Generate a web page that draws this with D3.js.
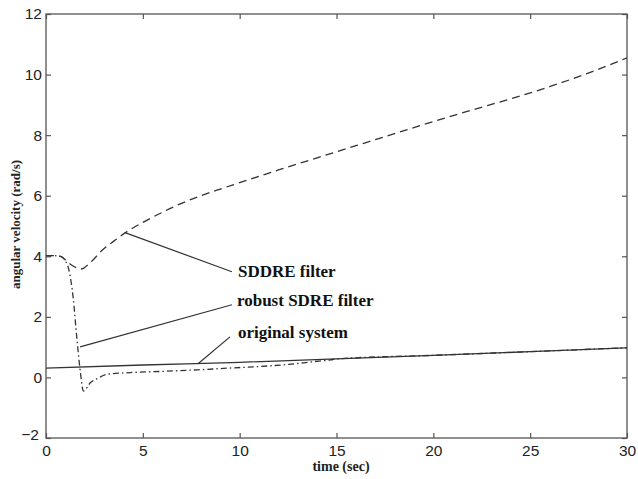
<!DOCTYPE html>
<html><head><meta charset="utf-8">
<script src="https://cdn.jsdelivr.net/npm/d3@7"></script>
<style>body{margin:0;background:#fff}</style>
</head><body>
<svg id="c" width="638" height="479"></svg>
<script>
const xTicks = [0,5,10,15,20,25,30];
const yTicks = [-2,0,2,4,6,8,10,12];
const xLabel = "time (sec)";
const yLabel = "angular velocity (rad/s)";

const tSddre = [0,0.4,0.75,1.1,1.4,1.8,2.3,2.9,3.5,4.1,5,6,7,8,9,10,12,14,16,18,20,22,24,26,28,30];
const sddre  = [4.02,4.02,4.0,3.82,3.68,3.58,3.8,4.2,4.5,4.78,5.12,5.45,5.75,6.0,6.22,6.43,6.85,7.25,7.65,8.05,8.45,8.83,9.2,9.6,10.05,10.55];

const tRobust = [0,0.4,0.75,1.0,1.2,1.4,1.6,1.78,1.93,2.3,2.7,3.15,4.35,6,7.8,9.5,11,12.5,13.8,14.7,15,20,25,30];
const robust  = [4.02,4.02,4.0,3.85,3.5,2.65,1.25,0.15,-0.45,-0.17,-0.02,0.1,0.16,0.2,0.25,0.31,0.36,0.43,0.52,0.58,0.61,0.73,0.85,0.98];

const tOrig = [0,5,10,15,20,25,30];
const orig  = [0.31,0.41,0.5,0.61,0.73,0.85,0.98];

const labels = ["SDDRE filter","robust SDRE filter","original system"];
const leaderFrom = [[4.08,4.78],[1.76,1.01],[7.85,0.45]];
const leaderTo   = [[9.6,3.49],[9.6,2.4],[9.5,1.34]];
const labelPos   = [[9.91,3.32],[9.86,2.37],[9.91,1.31]];

const svg = d3.select("#c");
const L=46,R=627,T=14,B=438;
const x = d3.scaleLinear().domain([0,30]).range([L,R]);
const y = d3.scaleLinear().domain([-2,12]).range([B,T]);
const ink="#333";
const serif="Liberation Serif, Times New Roman, serif";

// frame
svg.append("rect").attr("x",L).attr("y",T).attr("width",R-L).attr("height",B-T)
  .attr("fill","none").attr("stroke","#555").attr("stroke-width",1.3);

// axes with inward ticks
const ax = svg.append("g").attr("transform",`translate(0,${B})`)
  .call(d3.axisBottom(x).tickValues(xTicks).tickSizeInner(-5).tickSizeOuter(0).tickPadding(7));
const ay = svg.append("g").attr("transform",`translate(${L},0)`)
  .call(d3.axisLeft(y).tickValues(yTicks).tickSizeInner(-5).tickSizeOuter(0).tickPadding(4).tickFormat(d=>d<0?"\u2212"+(-d):d));
const at = svg.append("g").attr("transform",`translate(0,${T})`)
  .call(d3.axisTop(x).tickValues(xTicks).tickSizeInner(-5).tickSizeOuter(0).tickFormat(""));
const ar = svg.append("g").attr("transform",`translate(${R},0)`)
  .call(d3.axisRight(y).tickValues(yTicks).tickSizeInner(-5).tickSizeOuter(0).tickFormat(""));
[ax,ay,at,ar].forEach(g=>{
  g.select(".domain").remove();
  g.selectAll(".tick line").attr("stroke","#555").attr("stroke-width",1.2);
  g.selectAll("text").attr("font-family","Liberation Sans, Arial, sans-serif").attr("font-size",15.5).attr("fill","#222");
});
ay.selectAll(".tick text").filter(d=>d===-2).attr("dy","0.1em").attr("dx","-3");

// axis titles
svg.append("text").attr("x",341).attr("y",471).attr("text-anchor","middle")
  .attr("font-family",serif).attr("font-weight","bold").attr("font-size",14).attr("fill","#222").text(xLabel);
svg.append("text").attr("transform",`translate(15,${y(5.05)}) rotate(-90)`).attr("text-anchor","middle").attr("dy","0.35em")
  .attr("font-family",serif).attr("font-weight","bold").attr("font-size",13).attr("fill","#222").text(yLabel);

const line = d3.line().x(d=>x(d[0])).y(d=>y(d[1])).curve(d3.curveMonotoneX);
const draw=(ts,vs,dash)=>svg.append("path").datum(ts.map((t,i)=>[t,vs[i]]))
  .attr("d",line).attr("fill","none").attr("stroke",ink).attr("stroke-width",1.3)
  .attr("stroke-dasharray",dash);
draw(tOrig,orig,null);
draw(tRobust,robust,"6,3,1.5,3");
draw(tSddre,sddre,"8,5");

// annotations
labels.forEach((s,i)=>{
  svg.append("line").attr("x1",x(leaderFrom[i][0])).attr("y1",y(leaderFrom[i][1]))
    .attr("x2",x(leaderTo[i][0])).attr("y2",y(leaderTo[i][1])).attr("stroke",ink).attr("stroke-width",1.2);
  svg.append("text").attr("x",x(labelPos[i][0])).attr("y",y(labelPos[i][1]))
    .attr("font-family",serif).attr("font-weight","bold").attr("font-size",17).attr("fill","#111").text(s);
});
</script>
</body></html>
